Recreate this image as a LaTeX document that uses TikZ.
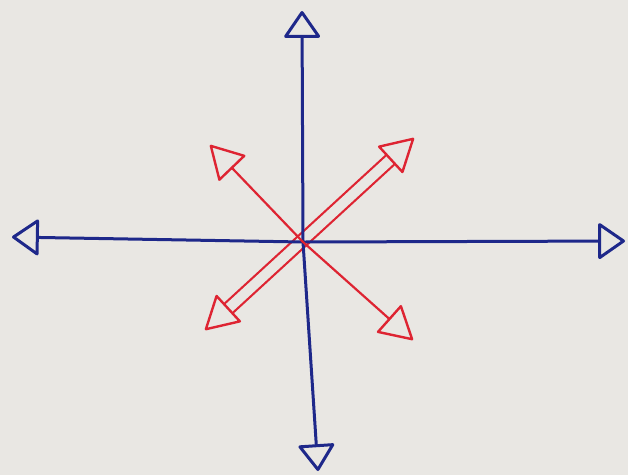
\documentclass[tikz,border=0pt]{standalone}
\usetikzlibrary{arrows.meta}
\definecolor{paper}{RGB}{233,231,227}
\definecolor{inkblue}{RGB}{30,40,138}
\definecolor{inkred}{RGB}{222,36,50}
\begin{document}
\begin{tikzpicture}[x=1pt, y=-1pt, line cap=round, line join=round,
    axis/.style={inkblue, line width=3pt,
        >={Triangle[open, round, length=28pt, width=38pt, line width=3pt]}, <->},
    redarrow/.style={inkred, line width=2.2pt,
        >={Triangle[open, round, length=34pt, width=38pt, line width=2.4pt]}, <->}]
    % 纸面背景
    \fill[paper] (0,0) rectangle (628,475);

    % 各箭头端点与中心
    \coordinate (O) at (303,242);
    \coordinate (W) at (12,237);
    \coordinate (E) at (625,241);
    \coordinate (N) at (302,11);
    \coordinate (S) at (318,471);
    \coordinate (NW) at (210,145);
    \coordinate (SE) at (413,340);
    \coordinate (NE) at (414,138);
    \coordinate (SW) at (205,330);

    % 红色双线箭头
    \draw[redarrow, line cap=butt, double=paper, double distance=10pt] (SW) -- (NE);

    % 蓝色坐标轴
    \draw[axis] (W) -- (O) -- (E);
    \draw[axis] (N) -- (O) -- (S);

    % 红色细线箭头
    \draw[redarrow] (NW) -- (O) -- (SE);
\end{tikzpicture}
\end{document}
